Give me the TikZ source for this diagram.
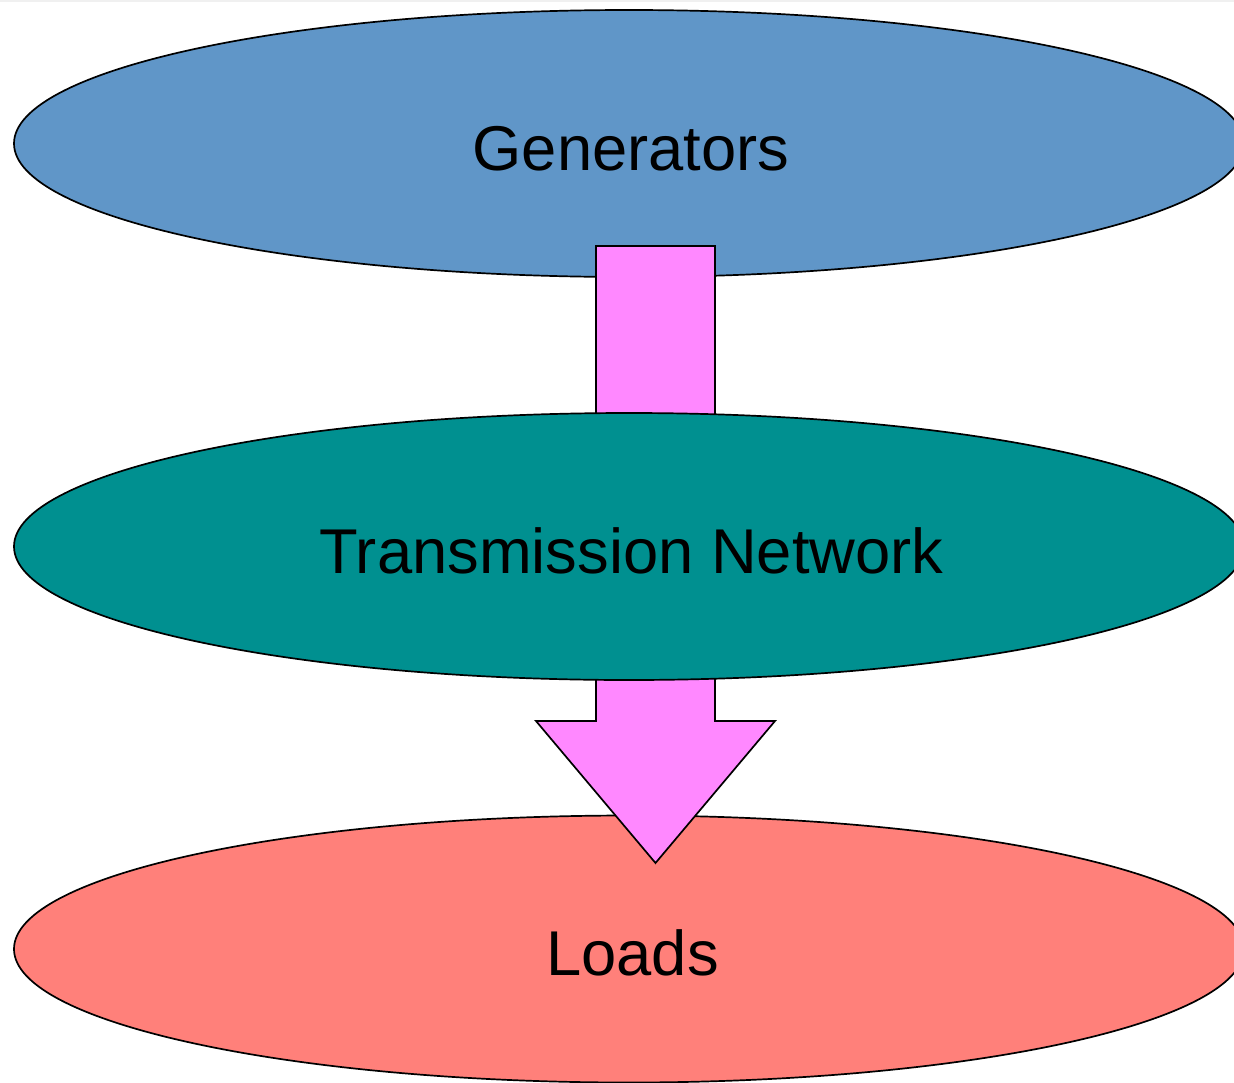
\documentclass[tikz,border=0pt]{standalone}
\usepackage{fontspec}
\setmainfont{Liberation Sans}
\usetikzlibrary{shapes.geometric}
\definecolor{genblue}{RGB}{96,150,200}
\definecolor{netteal}{RGB}{0,144,144}
\definecolor{loadred}{RGB}{255,128,122}
\definecolor{flowpink}{RGB}{255,136,255}
\tikzset{
  stage/.style={ellipse, draw=black, line width=1.7pt, minimum width=1230pt, minimum height=267pt, inner sep=0pt},
  stagetext/.style={anchor=base, inner sep=0pt, font=\fontsize{63.3}{70}\selectfont, text=black},
  flow/.style={fill=flowpink, draw=black, line width=1.7pt, line join=miter}
}
\begin{document}
\begin{tikzpicture}[x=1pt,y=-1pt]
\useasboundingbox (0,0) rectangle (1234,1082);
\fill[white] (0,0) rectangle (1234,1082);
\draw[gray!12, line width=2pt] (0,1) -- (1234,1) ;
% stages of the power system
\node[stage, fill=genblue] (gen) at (629,143.5) {};
\node[stage, fill=loadred] (load) at (629,949) {};
% power flow arrow, passing behind the network
\coordinate (tip) at (655.5,863);
\draw[flow] (596,246) -- (715,246) -- (715,721) -- (775,721) -- (tip)
  -- (536,721) -- (596,721) -- cycle;
\node[stage, fill=netteal] (net) at (629,546.5) {};
% labels
\node[stagetext] (gentext) at (631,170) {Generators};
\node[stagetext] (nettext) at (631.5,573) {Transmission Network};
\node[stagetext] (loadtext) at (632.5,975) {Loads};
\end{tikzpicture}
\end{document}
